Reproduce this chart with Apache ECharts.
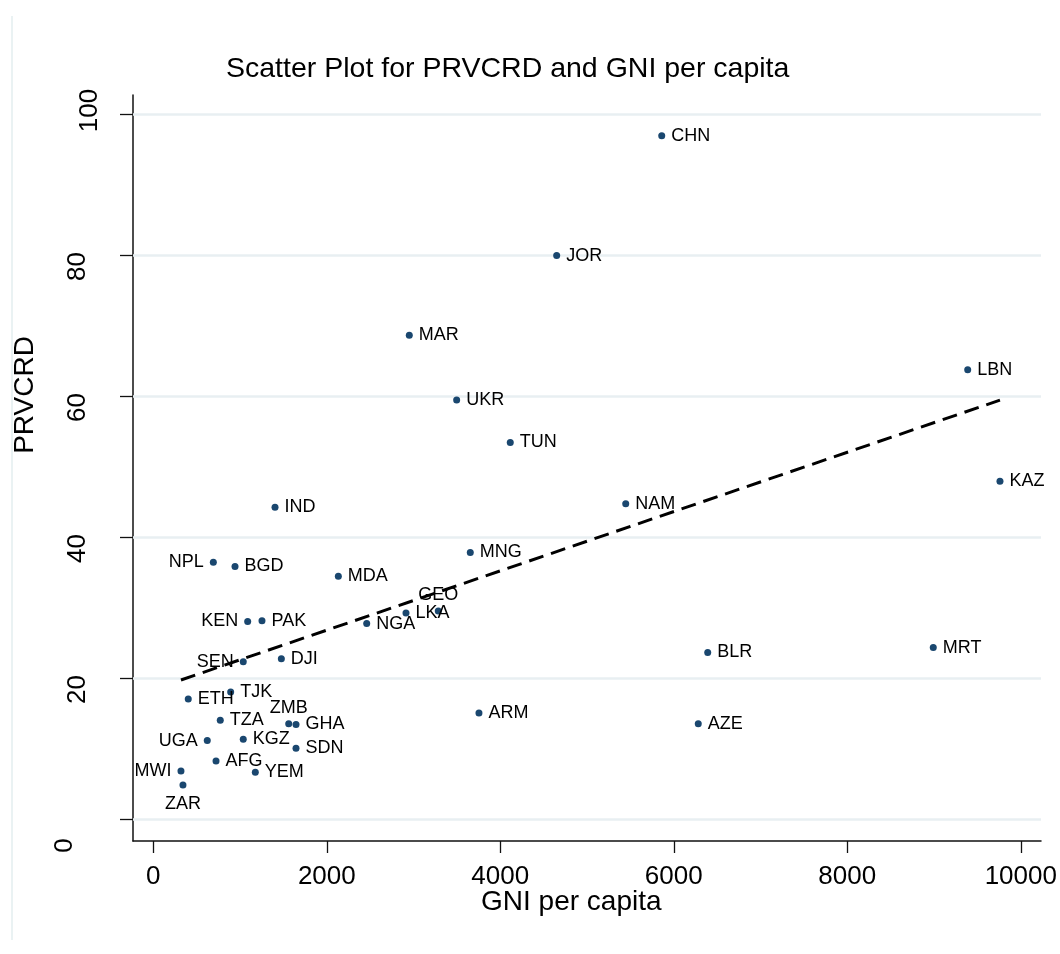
<!DOCTYPE html>
<html>
<head>
<meta charset="utf-8">
<script src="https://cdn.jsdelivr.net/npm/echarts@6/dist/echarts.min.js"></script>
<style>
html,body{margin:0;padding:0;background:#fff;}
#chart{width:1060px;height:954px;}
</style>
</head>
<body>
<div id="chart"></div>
<script>
// ---- data ----
var countries = ['CHN','JOR','MAR','LBN','UKR','TUN','KAZ','NAM','IND','MNG','NPL','BGD','MDA','GEO','LKA','NGA','KEN','PAK','SEN','DJI','BLR','MRT','ETH','TJK','TZA','ZMB','GHA','ARM','AZE','UGA','KGZ','SDN','AFG','YEM','MWI','ZAR'];
var gni    = [5861,4650,2951,9388,3497,4115,9760,5446,1403,3654,692,942,2133,3285,2913,2460,1088,1253,1037,1476,6391,8991,403,892,772,1561,1645,3754,6282,622,1037,1645,723,1176,319,342];
var prvcrd = [97.0,80.0,68.7,63.8,59.5,53.5,48.0,44.8,44.3,37.9,36.5,35.9,34.5,29.6,29.3,27.8,28.1,28.2,22.4,22.8,23.7,24.4,17.1,18.1,14.1,13.6,13.5,15.1,13.6,11.2,11.4,10.1,8.3,6.7,6.9,4.9];
var fitX = [319, 9760];
var fitY = [19.8, 59.5];
var xTicks = [0,2000,4000,6000,8000,10000];
var yTicks = [0,20,40,60,80,100];

// ---- label placement (style) ----
var labelPlace = {
  NPL:{position:'left'}, KEN:{position:'left'}, SEN:{position:'left'},
  UGA:{position:'left'}, MWI:{position:'left'},
  GEO:{position:'top', distance:3, offset:[0,0]},
  ZMB:{position:'top', distance:3, offset:[7,0]},
  ZAR:{position:'bottom', distance:7, offset:[0,0]}
};

var FONT = '"Liberation Sans", Arial, Helvetica, sans-serif';

var scatterData = countries.map(function(c, i){
  var lp = labelPlace[c] || {position:'right'};
  return {
    name: c,
    value: [gni[i], prvcrd[i]],
    label: {
      position: lp.position,
      distance: lp.distance != null ? lp.distance : 6,
      offset: lp.offset || [0, 2]
    }
  };
});

var chart = echarts.init(document.getElementById('chart'), null, {renderer:'canvas'});

var option = {
  animation: false,
  backgroundColor: '#ffffff',
  grid: {left:133, top:95, right:19, bottom:113, containLabel:false},
  xAxis: {
    type: 'value',
    min: -234, max: 10233,
    axisLine: {show:true, onZero:false, lineStyle:{color:'#111', width:1.5}},
    axisTick: {show:true, customValues: xTicks, length:12, lineStyle:{color:'#111', width:1.3}},
    axisLabel: {show:true, customValues: xTicks, margin:23, fontSize:26, color:'#000', fontFamily:FONT,
      formatter: function(v){ return String(v); }},
    splitLine: {show:false}
  },
  yAxis: {
    type: 'value',
    min: -3.04, max: 102.78,
    axisLine: {show:true, onZero:false, lineStyle:{color:'#111', width:1.5}},
    axisTick: {show:true, customValues: yTicks, length:13, lineStyle:{color:'#111', width:1.3}},
    axisLabel: {
      show:true, customValues: yTicks, rotate:90, margin:30,
      fontSize:26, color:'#000', fontFamily:FONT,
      formatter: function(v){
        var s = String(v);
        return '{d' + s.length + '|' + s + '}';
      },
      rich: {
        d1: {fontSize:26, lineHeight:26, fontFamily:FONT, color:'#000', padding:[0,52,50,0]},
        d2: {fontSize:26, lineHeight:26, fontFamily:FONT, color:'#000', padding:[0,22,24,0]},
        d3: {fontSize:26, lineHeight:26, fontFamily:FONT, color:'#000', padding:[0,0,0,8]}
      }
    },
    splitLine: {show:false}
  },
  graphic: [
    {type:'line', shape:{x1:12, y1:16, x2:12, y2:940}, style:{stroke:'#eaf2f3', lineWidth:2}, silent:true},
    {type:'text', x:226, y:69, style:{text:'Scatter Plot for PRVCRD and GNI per capita', font:'28.5px ' + FONT, fill:'#000', textAlign:'left', textVerticalAlign:'middle'}, silent:true},
    {type:'text', x:481, y:902, style:{text:'GNI per capita', font:'28px ' + FONT, fill:'#000', textAlign:'left', textVerticalAlign:'middle'}, silent:true},
    {type:'text', x:25, y:395, rotation:Math.PI/2, style:{text:'PRVCRD', font:'28px ' + FONT, fill:'#000', textAlign:'center', textVerticalAlign:'middle'}, silent:true}
  ],
  series: [
    {
      type: 'line',
      name: 'grid',
      data: [],
      z: 1,
      silent: true,
      markLine: {
        silent: true,
        z: 1,
        symbol: ['none','none'],
        label: {show:false},
        lineStyle: {color:'#e8eff2', width:2.5, type:'solid'},
        emphasis: {disabled:true},
        data: yTicks.map(function(v){ return {yAxis: v}; })
      }
    },
    {
      type: 'line',
      name: 'fit',
      data: fitX.map(function(x, i){ return [x, fitY[i]]; }),
      symbol: 'none',
      z: 3,
      silent: true,
      lineStyle: {color:'#000', width:3, type:[15,8]}
    },
    {
      type: 'scatter',
      name: 'countries',
      data: scatterData,
      symbol: 'circle',
      symbolSize: 7,
      z: 4,
      itemStyle: {color:'#1a476f', opacity:1},
      label: {
        show: true,
        formatter: '{b}',
        fontSize: 18,
        color: '#000',
        fontFamily: FONT
      },
      labelLayout: {hideOverlap:false},
      emphasis: {disabled:true}
    }
  ]
};
chart.setOption(option);
</script>
</body>
</html>
